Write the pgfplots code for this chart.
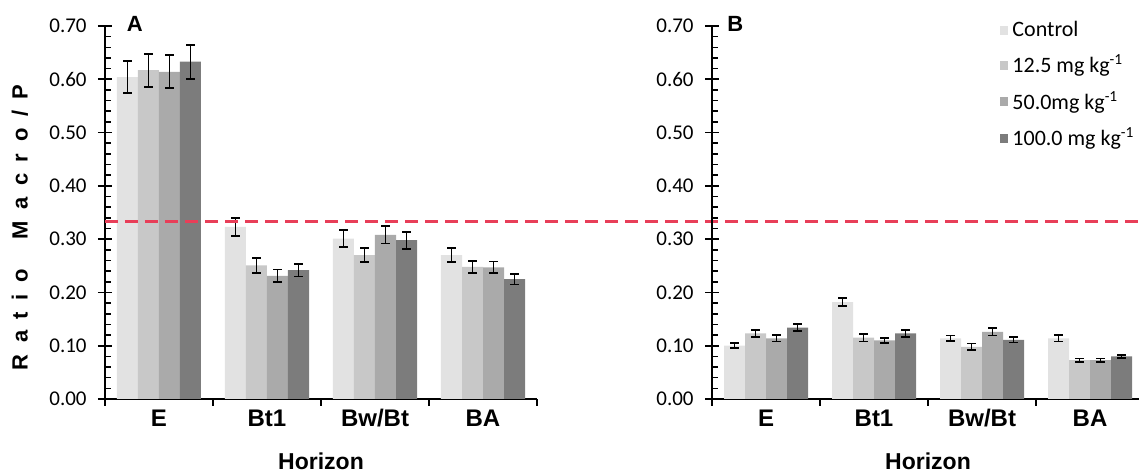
\documentclass[border=0pt]{standalone}
\usepackage{fontspec}
\setmainfont{Carlito}
\newfontfamily\arialfont{Liberation Sans}
\usepackage{pgfplots}
\pgfplotsset{compat=1.18}

\definecolor{cctrl}{RGB}{226,226,226}
\definecolor{ctwelve}{RGB}{200,200,200}
\definecolor{cfifty}{RGB}{170,170,170}
\definecolor{chundred}{RGB}{124,124,124}
\definecolor{refred}{RGB}{232,62,88}

\newcommand\ls{\hspace{5.8pt}}

\pgfplotsset{
  panel/.style={
    scale only axis, width=216pt, height=186.5pt,
    xmin=-0.5, xmax=3.5, ymin=0, ymax=0.7,
    ybar=0pt, bar width=10.5pt,
    axis x line*=bottom, axis y line*=left,
    axis line style={line width=1.1pt},
    every tick/.style={black, line width=0.8pt},
    ytick={0,0.1,0.2,0.3,0.4,0.5,0.6,0.7},
    minor y tick num=4,
    ytick align=inside, xtick align=outside,
    major tick length=3.5pt, minor tick length=3pt,
    extra y ticks={0,0.1,0.2,0.3,0.4,0.5,0.6,0.7},
    extra y tick labels={},
    extra y tick style={ytick align=outside},
    xtick={-0.5,0.5,1.5,2.5,3.5}, xticklabels={},
    extra x ticks={0,1,2,3},
    extra x tick labels={E,Bt1,Bw/Bt,BA},
    extra x tick style={major tick length=0pt},
    xticklabel style={font=\arialfont\bfseries\fontsize{12}{12}\selectfont, anchor=base, yshift=-13.9pt},
    yticklabel style={font=\fontsize{10.5}{12}\selectfont, anchor=east, inner sep=0pt, xshift=-9pt},
    /pgf/number format/.cd, fixed, fixed zerofill, precision=2, assume math mode=true,
    /pgfplots/.cd,
    xlabel={Horizon},
    every axis x label/.style={at={(axis description cs:0.5,0)}, anchor=base, yshift=-35.5pt,
      font=\arialfont\bfseries\fontsize{11.5}{12}\selectfont},
    clip=false,
  },
  bars/.style={draw=none,
    legend image code/.code={\fill[##1] (0pt,-2.2pt) rectangle (4.4pt,2.2pt);},
    error bars/.cd, y dir=both, y explicit,
    error bar style={black, line width=0.9pt},
    error mark options={black, rotate=90, mark size=2.2pt, line width=0.9pt},
    /pgfplots/.cd},
}

\begin{document}
\begin{tikzpicture}
% Panel A
\begin{axis}[panel, at={(0pt,0pt)},
  ylabel={\arialfont\bfseries R\ls a\ls t\ls i\ls o\ls\ \ls M\ls a\ls c\ls r\ls o\ls /\ls P},
  every axis y label/.style={at={(axis description cs:-0.197,0.46)}, anchor=center, rotate=90,
    font=\fontsize{11}{12}\selectfont},
]
\addplot[bars, fill=cctrl] coordinates {
  (0,0.604) +- (0,0.030) (1,0.323) +- (0,0.017) (2,0.301) +- (0,0.016) (3,0.270) +- (0,0.013)};
\addplot[bars, fill=ctwelve] coordinates {
  (0,0.617) +- (0,0.031) (1,0.251) +- (0,0.014) (2,0.270) +- (0,0.013) (3,0.248) +- (0,0.011)};
\addplot[bars, fill=cfifty] coordinates {
  (0,0.614) +- (0,0.031) (1,0.231) +- (0,0.012) (2,0.308) +- (0,0.016) (3,0.247) +- (0,0.011)};
\addplot[bars, fill=chundred] coordinates {
  (0,0.633) +- (0,0.032) (1,0.242) +- (0,0.012) (2,0.298) +- (0,0.016) (3,0.225) +- (0,0.010)};
% reference line at 1/3, running across both panels
\addplot[refred, line width=1.2pt, dash pattern=on 6.5pt off 3.5pt, sharp plot, no marks, forget plot]
  coordinates {(-0.5,0.3333) (9.08,0.3333)};
\node[font=\arialfont\bfseries\fontsize{11}{11}\selectfont] at (rel axis cs:0.069,1.005) {A};
\end{axis}

% Panel B
\begin{axis}[panel, at={(303.5pt,0pt)},
  legend style={at={(rel axis cs:0.665,1.025)}, anchor=north west, draw=none, fill=none,
    font=\fontsize{11}{12}\selectfont, row sep=3.8pt, inner sep=0pt},
  legend cell align=left,
]
\addplot[bars, fill=cctrl] coordinates {
  (0,0.100) +- (0,0.005) (1,0.182) +- (0,0.008) (2,0.114) +- (0,0.005) (3,0.114) +- (0,0.006)};
\addlegendentry{Control}
\addplot[bars, fill=ctwelve] coordinates {
  (0,0.123) +- (0,0.007) (1,0.115) +- (0,0.007) (2,0.098) +- (0,0.006) (3,0.073) +- (0,0.003)};
\addlegendentry{12.5 mg kg\textsuperscript{-1}}
\addplot[bars, fill=cfifty] coordinates {
  (0,0.114) +- (0,0.006) (1,0.110) +- (0,0.005) (2,0.126) +- (0,0.007) (3,0.073) +- (0,0.003)};
\addlegendentry{50.0mg kg\textsuperscript{-1}}
\addplot[bars, fill=chundred] coordinates {
  (0,0.134) +- (0,0.006) (1,0.123) +- (0,0.006) (2,0.111) +- (0,0.005) (3,0.080) +- (0,0.003)};
\addlegendentry{100.0 mg kg\textsuperscript{-1}}
\node[font=\arialfont\bfseries\fontsize{11}{11}\selectfont] at (rel axis cs:0.054,1.005) {B};
\end{axis}
\pgfresetboundingbox
\useasboundingbox (-52.5pt,-38pt) rectangle (517pt,199.5pt);
\end{tikzpicture}
\end{document}
